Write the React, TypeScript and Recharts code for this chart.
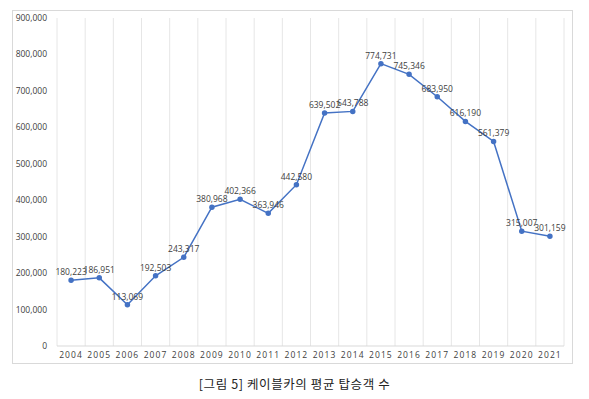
import React from "react";
import { LineChart, Line, XAxis, YAxis, CartesianGrid, LabelList } from "recharts";

const years = ["2004","2005","2006","2007","2008","2009","2010","2011","2012","2013","2014","2015","2016","2017","2018","2019","2020","2021"];
const passengers = [180223,186951,113069,192503,243317,380968,402366,363946,442580,639502,643788,774731,745346,683950,616190,561379,315007,301159];
const yTicks = [0,100000,200000,300000,400000,500000,600000,700000,800000,900000];
const caption = "[그림 5] 케이블카의 평균 탑승객 수";

const data = years.map((y, i) => ({ year: y, value: passengers[i] }));
const fmt = (v: number) => v.toLocaleString("en-US");
const FONT = "'Open Sans', 'Noto Sans', sans-serif";

export default function App() {
  return (
    <div style={{ position: "absolute", left: 0, top: 0, width: 589, height: 399, background: "#fff" }}>
      <div style={{ position: "absolute", left: 12, top: 10, width: 559, height: 352, border: "1px solid #d9d9d9" }} />
      <LineChart width={589} height={399} data={data} margin={{ top: 18, right: 25, bottom: 33, left: 0 }}>
        <CartesianGrid
          horizontal={false}
          stroke="#e6e6e6"
          verticalCoordinatesGenerator={({ offset }: any) => {
            const n = years.length;
            const arr: number[] = [];
            for (let i = 0; i <= n; i++) arr.push(offset.left + (offset.width * i) / n);
            return arr;
          }}
        />
        <XAxis
          dataKey="year"
          height={20}
          padding={{ left: 14.08, right: 14.08 }}
          axisLine={{ stroke: "#d9d9d9" }}
          tickLine={false}
          tickSize={0}
          tickMargin={6}
          interval={0}
          tick={{ fontSize: 8.5, fill: "#404040", fontFamily: FONT, letterSpacing: 1.1 }}
        />
        <YAxis
          width={57}
          domain={[0, 900000]}
          ticks={yTicks}
          tickFormatter={fmt}
          axisLine={false}
          tickLine={false}
          tickSize={0}
          tickMargin={10}
          tick={{ fontSize: 8.5, fill: "#404040", fontFamily: FONT }}
        />
        <Line
          type="linear"
          dataKey="value"
          stroke="#4472C4"
          strokeWidth={1.5}
          dot={{ r: 2, fill: "#4472C4", stroke: "#4472C4" }}
          isAnimationActive={false}
        >
          <LabelList dataKey="value" position="top" offset={5} formatter={fmt} style={{ fontSize: 8.5, fill: "#404040", fontFamily: FONT }} />
        </Line>
      </LineChart>
      <div style={{ position: "absolute", left: 0, top: 374, width: 589, textAlign: "center", fontFamily: "'Noto Sans CJK KR', sans-serif", fontSize: 12.5, letterSpacing: 0.6, color: "#222" }}>
        {caption}
      </div>
    </div>
  );
}
